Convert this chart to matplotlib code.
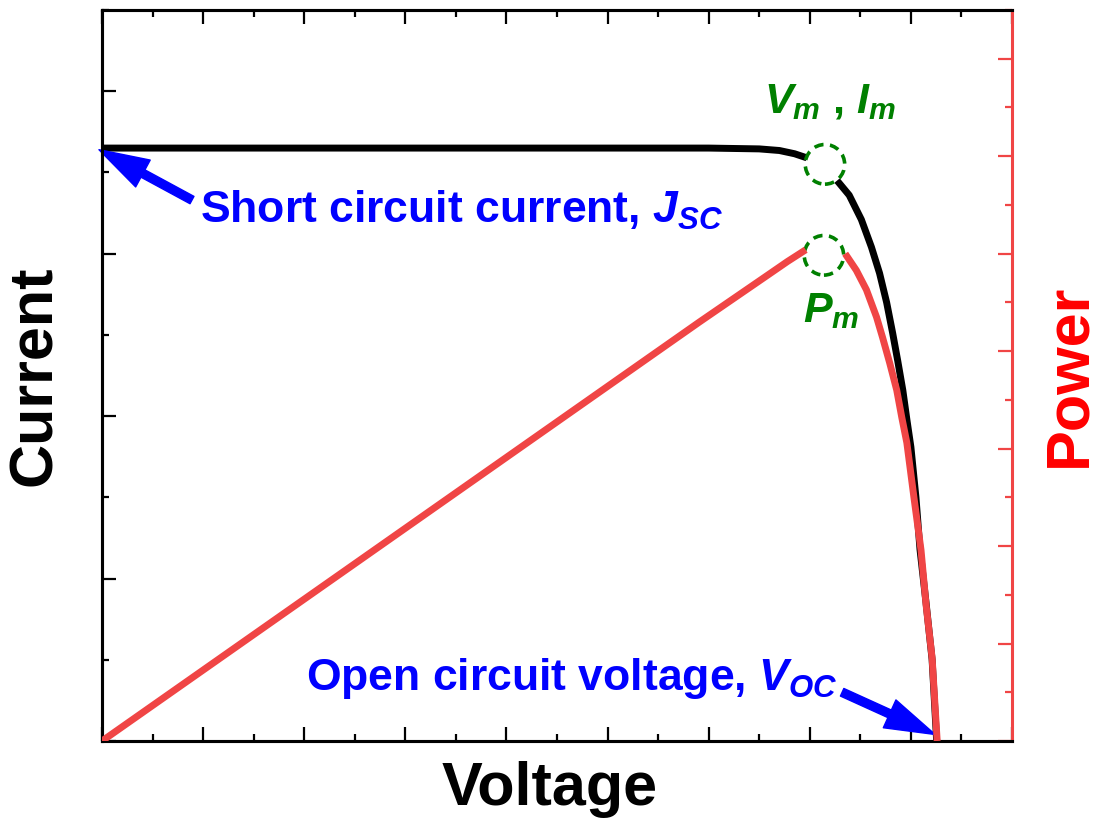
import numpy as np
import matplotlib
matplotlib.use('Agg')
import matplotlib.pyplot as plt
from matplotlib.patches import Ellipse
from matplotlib.ticker import MultipleLocator

plt.rcParams['font.family'] = 'Liberation Sans'
plt.rcParams['font.weight'] = 'bold'
plt.rcParams['mathtext.fontset'] = 'custom'
plt.rcParams['mathtext.rm'] = 'Liberation Sans:bold'
plt.rcParams['mathtext.it'] = 'Liberation Sans:italic:bold'
plt.rcParams['mathtext.bf'] = 'Liberation Sans:bold'

nan = np.nan
# J-V curve (gap where the Vm/Im circle sits)
volt_j = [0, 1, 2, 3, 4, 5, 6, 6.5, 6.7, 6.85, 6.97, nan,
          7.27, 7.39, 7.51, 7.61, 7.69, 7.76, 7.82, 7.87, 7.92, 7.96, 8.00,
          8.05, 8.09, 8.15, 8.21, 8.255]
current = [3.65, 3.65, 3.65, 3.65, 3.65, 3.65, 3.65, 3.645, 3.635, 3.615, 3.59, nan,
           3.45, 3.36, 3.21, 3.04, 2.88, 2.70, 2.51, 2.34, 2.16, 1.98, 1.81,
           1.50, 1.18, 0.85, 0.50, 0.0]
# P-V curve (gap where the Pm circle sits)
volt_p = [0, 2.68, 5.91, 6.57, 6.78, 6.96, nan,
          7.35, 7.46, 7.56, 7.66, 7.72, 7.79, 7.86, 7.91, 7.96, 8.03, 8.10, 8.15, 8.21, 8.26]
power = [0, 1.95, 4.30, 4.77, 4.92, 5.04, nan,
         5.00, 4.83, 4.63, 4.35, 4.14, 3.88, 3.60, 3.32, 3.06, 2.50, 1.96, 1.40, 0.85, 0.0]

red = '#f04545'
green = '#008000'
blue = '#0000ff'

fig = plt.figure(figsize=(10.99, 8.26), dpi=100)
ax = fig.add_axes([102 / 1099, 1 - 741 / 826, 910 / 1099, 731 / 826])
ax2 = ax.twinx()

ax.plot(volt_j, current, color='black', lw=5, solid_capstyle='butt',
        solid_joinstyle='round', zorder=2)
ax2.plot(volt_p, power, color=red, lw=5, solid_capstyle='butt',
         solid_joinstyle='round', zorder=3)

ax.set_xlim(0, 9)
ax.set_ylim(0, 4.5)
ax2.set_ylim(0, 7.5)

ax.xaxis.set_major_locator(MultipleLocator(1))
ax.xaxis.set_minor_locator(MultipleLocator(0.5))
ax.yaxis.set_major_locator(MultipleLocator(1))
ax.yaxis.set_minor_locator(MultipleLocator(0.5))
ax2.yaxis.set_major_locator(MultipleLocator(1))
ax2.yaxis.set_minor_locator(MultipleLocator(0.5))

ax.tick_params(which='both', direction='in', top=True, bottom=True, left=True, right=False,
               labelbottom=False, labelleft=False, width=1.6, color='black')
ax.tick_params(which='major', length=10)
ax.tick_params(which='minor', length=5)
ax2.tick_params(which='both', direction='in', right=True, labelright=False, width=1.6, color=red)
ax2.tick_params(which='major', length=10)
ax2.tick_params(which='minor', length=5)
ax2.tick_params(axis='x', which='both', top=False, bottom=False)

for s in ['left', 'bottom', 'top']:
    ax.spines[s].set_linewidth(2.2)
    ax2.spines[s].set_linewidth(2.2)
ax.spines['right'].set_visible(False)
ax2.spines['right'].set_color(red)
ax2.spines['right'].set_linewidth(2.2)

# dashed circles marking the maximum power point
ax.add_patch(Ellipse((7.15, 3.55), 0.39, 0.244, fill=False, ec=green, lw=2.6,
                     ls=(0, (2.6, 1.8)), zorder=4))
ax.add_patch(Ellipse((7.14, 2.99), 0.39, 0.244, fill=False, ec=green, lw=2.6,
                     ls=(0, (2.6, 1.8)), zorder=4))

ax.text(6.55, 3.865, r'$V_m$ , $I_m$', color=green, fontsize=31, ha='left', va='baseline')
ax.text(6.93, 2.578, r'$P_m$', color=green, fontsize=31, ha='left', va='baseline')

ax.text(0.968, 3.19, r'Short circuit current, $J_{SC}$', color=blue, fontsize=32,
        ha='left', va='baseline')
ax.text(2.02, 0.314, r'Open circuit voltage, $V_{OC}$', color=blue, fontsize=32,
        ha='left', va='baseline')

arrow = dict(arrowstyle='simple,head_length=3.6,head_width=2.2,tail_width=0.6',
             color=blue, shrinkA=0, shrinkB=0, mutation_scale=10)
ax.annotate('', xy=(-0.03, 3.64), xytext=(0.89, 3.33), arrowprops=arrow,
            annotation_clip=False, zorder=5)
ax.annotate('', xy=(8.24, 0.04), xytext=(7.32, 0.30), arrowprops=arrow,
            annotation_clip=False, zorder=5)

fig.text(36 / 1099, 1 - 376 / 826, 'Current', rotation=90, fontsize=44,
         ha='center', va='center', color='black')
fig.text(550 / 1099, 1 - 805 / 826, 'Voltage', fontsize=44,
         ha='center', va='baseline', color='black')
fig.text(1070 / 1099, 1 - 375 / 826, 'Power', rotation=90, fontsize=44,
         ha='center', va='center', color='#ff0000')

fig.savefig('out.png', dpi=100)
